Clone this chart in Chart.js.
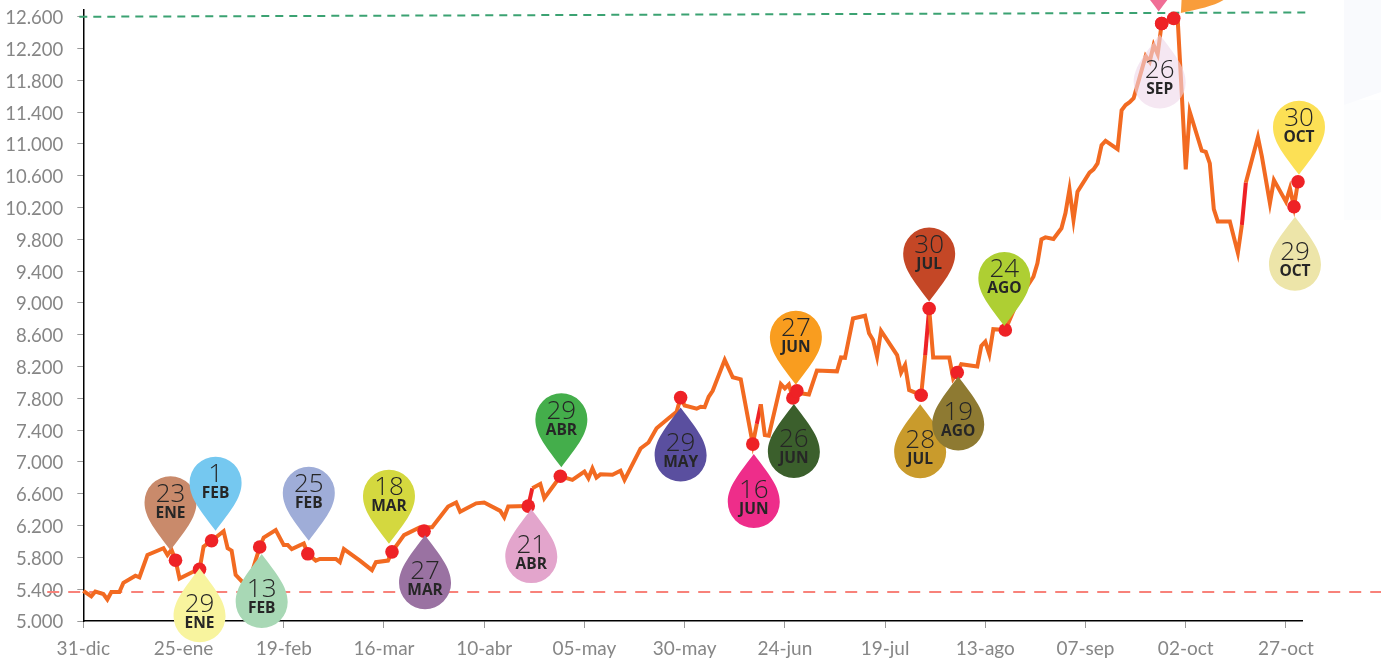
<!DOCTYPE html>
<html lang="es">
<head>
<meta charset="utf-8">
<style>
html,body{margin:0;padding:0;background:#fff;overflow:hidden}
#wrap{position:relative;width:1381px;height:660px}
</style>
<script src="https://cdn.jsdelivr.net/npm/chart.js@4/dist/chart.umd.min.js"></script>
</head>
<body>
<div id="wrap"><canvas id="c"></canvas></div>
<script>
// ---- data ----
const dateTickDays = [0,25,50,75,100,125,150,175,200,225,250,275,300];
const dateTickLabels = ['31-dic','25-ene','19-feb','16-mar','10-abr','05-may','30-may','24-jun','19-jul','13-ago','07-sep','02-oct','27-oct'];
const priceTicks = [5000,5400,5800,6200,6600,7000,7400,7800,8200,8600,9000,9400,9800,10200,10600,11000,11400,11800,12200,12600];
const seriesDays = [0,2,3,5,6,7,9,10,13,14,16,20,21,22,23,24,27,29,30,32,35,36,37,38,40,41,43,44,45,48,50,51,52,55,56,58,59,63,64,65,69,72,73,76,77,80,84,87,91,93,94,98,100,104,105,106,111,112,114,115,119,122,125,126,127,128,129,132,134,135,139,141,143,146,148,149,150,153,154,155,156,157,160,162,164,167,168,169,170,171,174,175,176,177,178,179,181,183,188,189,190,192,195,196,197,198,199,203,204,205,206,209,210,211,212,216,217,218,219,223,224,225,226,227,230,233,237,238,239,240,242,244,245,246,247,248,251,252,253,254,255,258,259,260,261,262,265,266,267,268,269,272,273,274,275,276,279,280,281,282,283,286,288,289,290,293,294,296,297,300,301,302,303];
const seriesValues = [5380,5310,5370,5340,5270,5365,5365,5480,5570,5550,5830,5915,5830,5895,5765,5535,5610,5650,5935,6010,6130,5915,5885,5580,5475,5430,5765,5930,6050,6145,5955,5955,5905,5975,5845,5760,5780,5780,5740,5905,5760,5640,5740,5760,5870,6080,6180,6180,6440,6490,6375,6480,6490,6385,6305,6440,6445,6670,6725,6545,6820,6775,6880,6795,6920,6805,6845,6840,6890,6775,7170,7245,7425,7550,7630,7810,7710,7670,7695,7690,7820,7895,8285,8065,8040,7225,7480,7725,7340,7330,7980,7925,7975,7805,7895,7865,7850,8150,8140,8315,8310,8805,8840,8620,8535,8325,8650,8345,8125,8220,7905,7840,8345,8930,8315,8315,8050,8125,8230,8200,8460,8515,8355,8670,8660,9015,9330,9500,9800,9825,9805,9940,10130,10430,10045,10400,10640,10680,10755,10985,11040,10935,11425,11490,11525,11575,12105,12035,12245,12130,12515,12580,12560,11640,10680,11405,10915,10900,10755,10180,10025,10025,9630,9980,10515,11085,10840,10255,10545,10275,10440,10210,10525];
const redSegmentStartDays = [111,168,210,289];
const lowRefDays = [-9,324];
const lowRefValues = [5365,5365];
const highRefDays = [-1,305];
const highRefValues = [12600,12655];
const pinDays = [23,29,32,44,56,77,85,111,119,149,167,177,178,209,211,218,230,269,269,272,302,303];
const pinValues = [5765,5650,6010,5930,5845,5870,6130,6445,6820,7810,7225,7805,7895,7840,8930,8125,8660,12515,12515,12580,10210,10525];
const pinNumbers = ['23','29','1','13','25','18','27','21','29','29','16','26','27','28','30','19','24','26','','','29','30'];
const pinMonths = ['ENE','ENE','FEB','FEB','FEB','MAR','MAR','ABR','ABR','MAY','JUN','JUN','JUN','JUL','JUL','AGO','AGO','SEP','','','OCT','OCT'];

// ---- styling ----
const pinColors = ['#C98A6B','#F8F49E','#75C8F0','#A8D8B5','#9FADD8','#D4D83F','#9A72A2','#E3A5CC','#44AE4B','#5A4F9F','#EE2D8A','#3B5F2C','#F99D1F','#C99B2C','#C44726','#8E7A32','#AECF33','rgba(239,215,234,0.6)','#F06E96','#F99D3B','#EDE5A9','rgba(252,222,72,0.93)'];
const pinHeadOffsets = [[-5,-58],[0,47],[4,-58],[2,55],[1,-61],[-3,-56],[1,52],[3,51],[1,-57],[0,58],[1,58],[1,54],[-1,-54],[-1,57],[0,-55],[1,52],[-1,-52],[-2,59],[-3,-60],[38,-42],[1,58],[1,-55]];
const pinAngles = [0,180,0,180,0,0,180,180,0,180,180,180,0,180,0,180,0,180,0,40,180,0];
const R = 26, TIP = 48;
const TICK_GREY = '#9a9a9a', LABEL_GREY = '#868686', FONT = 'Lato, "Open Sans", sans-serif';

const pinPlugin = {
  id: 'pins',
  afterDatasetsDraw(chart) {
    const g = chart.ctx, xs = chart.scales.x, ys = chart.scales.y;
    pinDays.forEach((day, i) => {
      const cx = xs.getPixelForValue(day) + pinHeadOffsets[i][0];
      const cy = ys.getPixelForValue(pinValues[i]) + pinHeadOffsets[i][1];
      const a = pinAngles[i];
      g.save();
      g.translate(cx, cy);
      g.save();
      g.rotate(a * Math.PI / 180);
      g.beginPath();
      g.arc(0, 0, R, Math.PI, 0, false);
      g.bezierCurveTo(R, 16, 14, 29, 0, TIP);
      g.bezierCurveTo(-14, 29, -R, 16, -R, 0);
      g.closePath();
      g.fillStyle = pinColors[i];
      g.fill();
      g.restore();
      const up = a === 180;
      g.textAlign = 'center';
      g.textBaseline = 'middle';
      g.fillStyle = '#262626';
      if (pinNumbers[i]) {
        g.font = '300 26px "Open Sans", sans-serif';
        g.fillText(pinNumbers[i], 0, up ? -12 : -8);
        g.font = '700 15.5px "Open Sans", sans-serif';
        g.fillText(pinMonths[i], 0, up ? 7 : 11);
      }
      g.restore();
    });
  }
};
const backdropPlugin = {
  id: 'backdrop',
  beforeDraw(chart) {
    const g = chart.ctx;
    g.save();
    g.fillStyle = '#FCFDFE';
    g.fillRect(1344, 100, 37, 120);
    g.fillStyle = '#F9FAFD';
    g.beginPath();
    g.moveTo(1344, 0); g.lineTo(1381, 0); g.lineTo(1381, 92); g.lineTo(1344, 105);
    g.closePath(); g.fill();
    g.restore();
  }
};

const pts = (xs, ys) => xs.map((x, i) => ({x, y: ys[i]}));
const noMargins = s => { s.paddingTop = 0; s.paddingBottom = 0; s.paddingLeft = 0; s.paddingRight = 0; };

new Chart(document.getElementById('c'), {
  type: 'line',
  plugins: [backdropPlugin, pinPlugin],
  data: {
    datasets: [
      {label: 'Mínimo', data: pts(lowRefDays, lowRefValues), borderColor: '#F8827A', borderWidth: 1.8, borderDash: [12, 9], pointRadius: 0, clip: false, order: 4},
      {label: 'Máximo', data: pts(highRefDays, highRefValues), borderColor: '#3BA272', borderWidth: 2, borderDash: [8, 6], pointRadius: 0, clip: false, order: 3},
      {label: 'Serie', data: pts(seriesDays, seriesValues), borderColor: '#F26A21', borderWidth: 4, pointRadius: 0, tension: 0, borderJoinStyle: 'miter', clip: false, order: 2,
        segment: {borderColor: ctx => redSegmentStartDays.includes(ctx.p0.parsed.x) ? '#EE2226' : undefined}},
      {label: 'Marcas', data: pts(pinDays, pinValues), showLine: false, pointRadius: 6.8, pointBackgroundColor: '#EE2226', pointBorderWidth: 0, clip: false, order: 1}
    ]
  },
  options: {
    responsive: true,
    maintainAspectRatio: false,
    animation: false,
    events: [],
    layout: {padding: {left: 0, right: 79, top: 10, bottom: 0}},
    plugins: {legend: {display: false}, tooltip: {enabled: false}, title: {display: false}},
    scales: {
      x: {
        type: 'linear', min: 0, max: 304,
        afterBuildTicks: s => { s.ticks = dateTickDays.map(value => ({value})); },
        afterFit: s => { s.height = 39; noMargins(s); },
        border: {color: '#000', width: 1.5},
        grid: {drawOnChartArea: false, color: TICK_GREY, tickLength: 7},
        ticks: {
          color: LABEL_GREY, font: {family: FONT, size: 19}, padding: 9, maxRotation: 0, autoSkip: false,
          callback: v => dateTickLabels[dateTickDays.indexOf(v)] || ''
        }
      },
      y: {
        type: 'linear', min: 5000, max: 12685,
        afterBuildTicks: s => { s.ticks = priceTicks.map(value => ({value})); },
        afterFit: s => { s.width = 83.3; noMargins(s); },
        border: {color: '#000', width: 1.5},
        grid: {drawOnChartArea: false, color: TICK_GREY, tickLength: 6},
        ticks: {
          color: LABEL_GREY, font: {family: FONT, size: 18.5}, padding: 14, autoSkip: false, labelOffset: 1.5,
          callback: v => String(v).replace(/(\d)(\d{3})$/, '$1.$2')
        }
      }
    }
  }
});
</script>
</body>
</html>
